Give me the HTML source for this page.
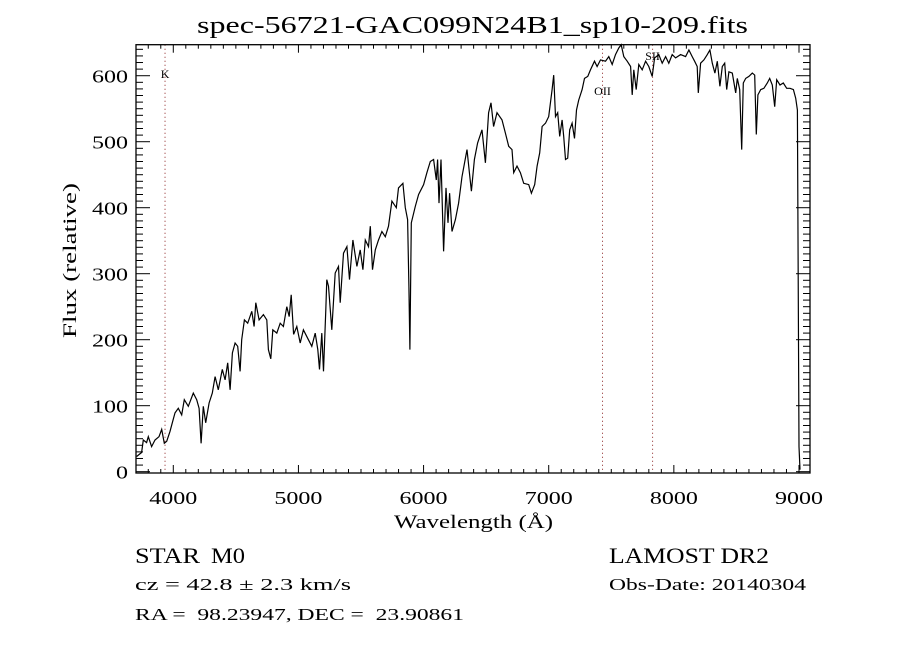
<!DOCTYPE html>
<html><head><meta charset="utf-8"><style>
body{margin:0;background:#fff;}
svg text{font-family:"Liberation Serif",serif;fill:#000;}
</style></head><body>
<svg id="chart" width="900" height="650" viewBox="0 0 900 650" xmlns="http://www.w3.org/2000/svg">
<rect width="900" height="650" fill="#fff"/>
<text x="197" y="33" font-size="24" textLength="551" lengthAdjust="spacingAndGlyphs">spec-56721-GAC099N24B1_sp10-209.fits</text>
<g id="axes"></g>
<g id="lines"></g>
<path id="spec" fill="none" stroke="#000" stroke-width="1.2"/>
<rect x="136" y="44.7" width="674" height="428.3" fill="none" stroke="#000" stroke-width="1.3"/>
<text x="394" y="528" font-size="19" textLength="159" lengthAdjust="spacingAndGlyphs">Wavelength (Å)</text>
<text transform="translate(76,338) rotate(-90)" font-size="19" textLength="155" lengthAdjust="spacingAndGlyphs">Flux (relative)</text>
<text x="135" y="563" font-size="22" textLength="65" lengthAdjust="spacingAndGlyphs">STAR</text>
<text x="211" y="563" font-size="22" textLength="34" lengthAdjust="spacingAndGlyphs">M0</text>
<text x="609" y="563" font-size="22" textLength="160" lengthAdjust="spacingAndGlyphs">LAMOST DR2</text>
<text x="135" y="590" font-size="17" textLength="216" lengthAdjust="spacingAndGlyphs">cz = 42.8 ± 2.3 km/s</text>
<text x="609" y="590" font-size="17" textLength="197" lengthAdjust="spacingAndGlyphs">Obs-Date: 20140304</text>
<text x="135" y="620" font-size="17" textLength="329" lengthAdjust="spacingAndGlyphs" xml:space="preserve">RA =  98.23947, DEC =  23.90861</text>
</svg>
<script>
const wavelengths=[3707,3747,3760,3787,3800,3827,3854,3886,3907,3928,3947,3974,3992,4014,4040,4067,4088,4120,4160,4187,4206,4222,4240,4259,4286,4312,4334,4360,4392,4414,4435,4454,4472,4494,4515,4534,4547,4568,4595,4627,4646,4659,4686,4720,4747,4760,4779,4795,4827,4854,4880,4907,4926,4942,4961,4987,5014,5040,5080,5107,5134,5155,5168,5187,5200,5219,5227,5240,5267,5294,5320,5334,5360,5387,5408,5435,5467,5494,5515,5534,5560,5574,5592,5614,5640,5667,5694,5720,5747,5782,5800,5835,5854,5872,5883,5891,5902,5934,5960,6000,6027,6054,6080,6102,6112,6123,6139,6160,6179,6195,6208,6227,6254,6280,6307,6347,6366,6382,6406,6432,6467,6494,6520,6539,6560,6587,6627,6654,6680,6707,6720,6747,6774,6800,6840,6862,6888,6907,6928,6947,6974,7000,7027,7040,7054,7072,7088,7107,7120,7134,7152,7168,7187,7206,7222,7240,7267,7286,7312,7334,7366,7387,7414,7454,7480,7507,7534,7560,7579,7600,7627,7654,7667,7680,7699,7720,7747,7774,7800,7827,7846,7880,7907,7934,7960,7987,8014,8054,8094,8120,8147,8166,8187,8195,8214,8240,8267,8288,8307,8328,8347,8368,8387,8406,8422,8440,8467,8494,8507,8526,8542,8555,8574,8600,8627,8646,8659,8672,8694,8720,8747,8766,8787,8806,8822,8848,8875,8902,8928,8955,8974,8987,9000,9008];
const fluxes=[23,29,48,44,53,38,48,53,64,43,46,61,74,89,96,86,109,99,119,109,96,43,99,74,104,119,144,124,155,139,165,124,180,195,190,152,200,230,225,243,220,256,230,238,230,185,171,215,210,225,220,250,235,268,208,220,195,215,200,190,210,185,155,210,152,245,291,281,215,301,311,256,331,341,291,351,311,336,306,351,341,372,306,336,351,364,356,372,410,400,430,437,400,382,281,185,377,402,420,435,453,470,473,442,473,407,473,334,430,377,422,364,382,407,447,488,453,425,473,498,518,468,544,559,523,544,533,513,493,488,453,463,453,437,435,422,435,463,483,523,528,538,579,601,538,544,508,533,508,473,475,518,528,505,548,563,579,596,599,609,622,614,624,622,629,617,632,642,647,629,622,614,571,609,579,617,609,622,614,599,627,632,619,629,619,632,627,632,629,639,629,622,614,574,619,624,632,639,619,604,622,584,614,619,579,606,604,574,596,579,488,589,596,599,604,601,511,571,579,581,589,596,586,553,594,586,589,581,581,579,566,548,38,3];
const xTickLabels=[4000,5000,6000,7000,8000,9000];
const yTickLabels=[0,100,200,300,400,500,600];
const lineNames=["K","OII","SII"];
const lineWaves=[3934,7430,7830];

const X0=136,X1=810,Y0=473,Y1=44.7;
const XMIN=3702,XMAX=9088,YMIN=-2,YMAX=647;
function xs(v){return X0+(v-XMIN)/(XMAX-XMIN)*(X1-X0);}
function ys(v){return Y0-(v-YMIN)/(YMAX-YMIN)*(Y0-Y1);}
const NS="http://www.w3.org/2000/svg";
function mk(tag,attrs,parent){const e=document.createElementNS(NS,tag);for(const k in attrs)e.setAttribute(k,attrs[k]);parent.appendChild(e);return e;}

let d="";
for(let i=0;i<wavelengths.length;i++){d+=(i?"L":"M")+xs(wavelengths[i]).toFixed(1)+","+ys(fluxes[i]).toFixed(1);}
document.getElementById("spec").setAttribute("d",d);

const ax=document.getElementById("axes");
for(let w=3800;w<=XMAX;w+=100){
  const major=w%1000===0, L=major?8:4, x=xs(w);
  const t1=mk("line",{x1:x,x2:x,y1:Y0,y2:Y0-L,stroke:"#000","stroke-width":1},ax);
  
  
  const t2=mk("line",{x1:x,x2:x,y1:Y1,y2:Y1+L,stroke:"#000","stroke-width":1},ax);
  
  
}
for(const v of xTickLabels){
  const t=mk("text",{x:xs(v)-24,y:504,"font-size":18,textLength:48,lengthAdjust:"spacingAndGlyphs"},ax);
  t.textContent=v;
  
  
}
for(let v=0;v<=YMAX;v+=10){
  const major=v%100===0, L=major?14:7, y=ys(v);
  const t1=mk("line",{x1:X0,x2:X0+L,y1:y,y2:y,stroke:"#000","stroke-width":1},ax);
  
  
  const t2=mk("line",{x1:X1,x2:X1-L,y1:y,y2:y,stroke:"#000","stroke-width":1},ax);
  
  
}
for(const v of yTickLabels){
  const s=String(v), w=s.length*12;
  const t=mk("text",{x:128-w,y:ys(v)+7,"font-size":18,textLength:w,lengthAdjust:"spacingAndGlyphs"},ax);
  t.textContent=s;
  
  
}
const lg=document.getElementById("lines");
const labelY=[78,95,60];
for(let i=0;i<lineNames.length;i++){
  const x=xs(lineWaves[i]);
  const l=mk("line",{x1:x,x2:x,y1:Y1,y2:Y0,stroke:"#8b2020","stroke-width":1,"stroke-dasharray":"1,3"},lg);
  
  
  const t=mk("text",{x:x,y:labelY[i],"font-size":12,"text-anchor":"middle"},lg);
  t.textContent=lineNames[i];
  
  
}
</script>
</body></html>
